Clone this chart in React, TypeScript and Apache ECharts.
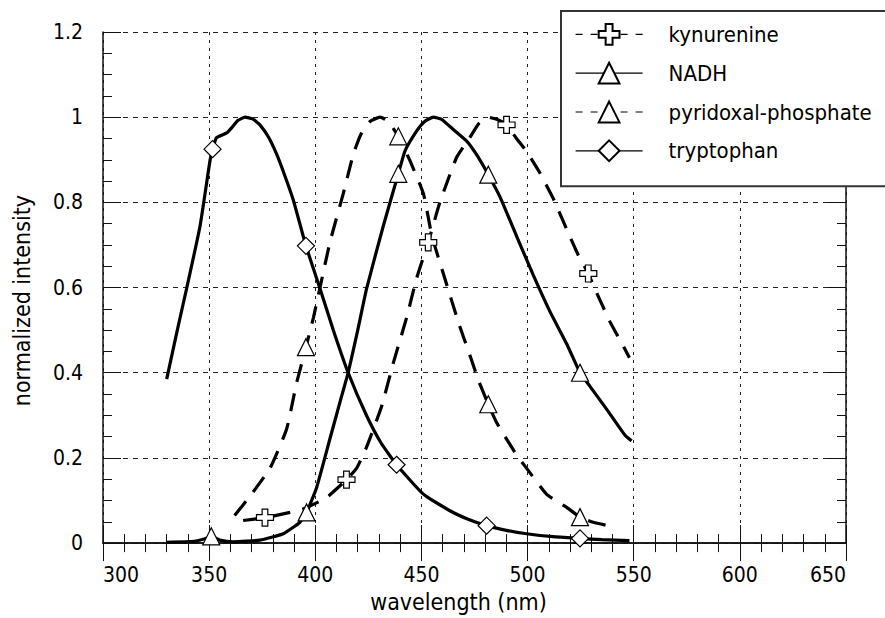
import React, { useEffect, useRef } from "react";
import * as echarts from "echarts";

const FONT = "'Liberation Sans Narrow', 'Arial Narrow', 'DejaVu Sans Condensed', sans-serif";

const xTicks = [300, 350, 400, 450, 500, 550, 600, 650];
const yTicks = [0, 0.2, 0.4, 0.6, 0.8, 1, 1.2];

const seriesNames = ["kynurenine", "NADH", "pyridoxal-phosphate", "tryptophan"];

const kynX = [366, 376.3, 388.1, 394.3, 405.3, 414.7, 419.5, 424.2, 431.3, 436.7, 443.0, 447.7, 453.2, 458.7, 466.6, 472.8, 477, 481.5, 485.5, 490.1, 494.8, 499.5, 505.7, 512.0, 518.4, 524, 528.6, 531.0, 538.8, 545.9, 548];
const kynY = [0.053, 0.06, 0.072, 0.08, 0.107, 0.149, 0.176, 0.226, 0.322, 0.422, 0.529, 0.621, 0.706, 0.8, 0.906, 0.952, 0.985, 1.0, 0.995, 0.982, 0.95, 0.92, 0.87, 0.81, 0.737, 0.675, 0.633, 0.605, 0.52, 0.455, 0.435];
const kynMarkers = [376.3, 414.7, 453.2, 490.1, 528.6];

const nadhX = [330, 343, 348, 351, 355, 361.4, 373.9, 384.9, 392.8, 395.9, 400.6, 406.9, 412.4, 415.5, 420, 424.2, 432.0, 439.1, 442.2, 447.7, 451.5, 455.6, 459.5, 463.4, 471.3, 476, 481.5, 487.0, 494.8, 502.7, 510.5, 518.4, 524.7, 529.4, 537.3, 545.9, 549];
const nadhY = [0.002, 0.004, 0.01, 0.016, 0.007, 0.003, 0.007, 0.022, 0.049, 0.072, 0.13, 0.245, 0.345, 0.4, 0.5, 0.598, 0.744, 0.867, 0.92, 0.967, 0.99, 1.0, 0.995, 0.978, 0.944, 0.912, 0.865, 0.813, 0.721, 0.629, 0.544, 0.468, 0.4, 0.368, 0.314, 0.253, 0.24];
const nadhMarkers = [351, 395.9, 439.1, 481.5, 524.7];

const pypX = [362, 369.2, 378.7, 386.5, 391.2, 395.6, 399.1, 406.9, 413.2, 417.9, 421.5, 425.8, 430.5, 434.4, 439.1, 444.6, 450.9, 455, 461.1, 467.7, 473.6, 476.8, 481.5, 485.4, 494.8, 499.5, 508.9, 518.4, 524.7, 531.0, 540.4];
const pypY = [0.065, 0.11, 0.176, 0.268, 0.376, 0.46, 0.529, 0.706, 0.821, 0.913, 0.96, 0.99, 1.0, 0.99, 0.955, 0.898, 0.821, 0.72, 0.62, 0.514, 0.43, 0.383, 0.326, 0.283, 0.207, 0.176, 0.115, 0.084, 0.061, 0.049, 0.038];
const pypMarkers = [395.6, 439.1, 481.5, 524.7];

const trpX = [330, 335, 339.4, 345.7, 350.4, 351.6, 353.5, 358.3, 360.6, 363.5, 366.9, 370.5, 373.9, 378, 381.8, 385.7, 389.6, 395.6, 402.2, 408.5, 415.5, 424.2, 431, 438.3, 450.9, 463.4, 472, 480.7, 490, 499.5, 512, 524.7, 535, 548];
const trpY = [0.385, 0.5, 0.598, 0.744, 0.898, 0.925, 0.952, 0.963, 0.975, 0.992, 1.0, 0.996, 0.982, 0.953, 0.913, 0.862, 0.806, 0.698, 0.598, 0.5, 0.4, 0.299, 0.235, 0.184, 0.115, 0.076, 0.056, 0.041, 0.03, 0.022, 0.015, 0.011, 0.008, 0.006];
const trpMarkers = [351.6, 395.6, 438.3, 480.7, 524.7];

const PLUS = "path://M1,0H2V1H3V2H2V3H1V2H0V1H1Z";

function build(xs: number[], ys: number[], markers: number[]) {
  return xs.map((x, i) =>
    markers.includes(x) ? { value: [x, ys[i]] } : { value: [x, ys[i]], symbol: "none" }
  );
}

function makeSeries(name: string, xs: number[], ys: number[], markers: number[], symbol: string, dashed: boolean) {
  return {
    name,
    type: "line",
    xAxisIndex: 0,
    yAxisIndex: 0,
    data: build(xs, ys, markers),
    smooth: 0.15,
    symbol,
    symbolSize: 17,
    showSymbol: true,
    lineStyle: { color: "#000", width: 3.2, type: dashed ? [18, 12] : "solid" },
    itemStyle: { color: "#fff", borderColor: "#000", borderWidth: 1.2 },
    emphasis: { disabled: true },
    z: 3,
  };
}

export default function App() {
  const ref = useRef<HTMLDivElement>(null);
  useEffect(() => {
    document.body.style.margin = "0";
    const chart = echarts.init(ref.current!, null, { renderer: "svg" });
    const axisCommon = {
      type: "value",
      axisLine: { show: true, lineStyle: { color: "#111", width: 1.5 } },
      axisTick: { show: true, inside: true, length: 18, lineStyle: { color: "#111", width: 1 } },
      minorTick: { show: true, length: 9, lineStyle: { color: "#111", width: 1 } },
    };
    chart.setOption({
      animation: false,
      backgroundColor: "#fff",
      grid: { left: 103, right: 39, top: 32, bottom: 65 },
      legend: {
        orient: "vertical",
        left: 561,
        top: 11,
        padding: [12, 60, 24, 14],
        itemGap: 16,
        itemWidth: 67,
        itemHeight: 26,
        backgroundColor: "#fff",
        borderColor: "#333",
        borderWidth: 2,
        borderRadius: 0,
        selectedMode: false,
        data: [
          { name: seriesNames[0], lineStyle: { type: [7, 8], width: 1.2 } },
          { name: seriesNames[1], lineStyle: { type: "solid", width: 1.2 } },
          { name: seriesNames[2], lineStyle: { type: [7, 8], width: 1.2 } },
          { name: seriesNames[3], lineStyle: { type: "solid", width: 1.2 } },
        ],
        textStyle: { fontFamily: FONT, fontSize: 22, color: "#000", padding: [0, 0, 0, 21] },
        z: 10,
      },
      xAxis: [
        {
          ...axisCommon,
          position: "bottom",
          min: 300,
          max: 650,
          interval: 50,
          minorTick: { ...axisCommon.minorTick, splitNumber: 5 },
          axisLabel: {
            show: true,
            margin: 21,
            fontFamily: FONT,
            fontSize: 21,
            color: "#000",
            alignMinLabel: "left",
            alignMaxLabel: "right",
            formatter: (v: number) => (xTicks.includes(v) ? String(v) : ""),
          },
          splitLine: { show: true, lineStyle: { color: "#222", width: 1, type: [3, 5] } },
          name: "wavelength (nm)",
          nameLocation: "middle",
          nameGap: 35,
          nameTextStyle: { fontFamily: FONT, fontSize: 23, color: "#000", padding: [0, 32, 0, 0] },
        },
        {
          ...axisCommon,
          position: "top",
          min: 300,
          max: 650,
          interval: 50,
          minorTick: { ...axisCommon.minorTick, splitNumber: 5 },
          axisLabel: { show: false },
          splitLine: { show: false },
        },
      ],
      yAxis: [
        {
          ...axisCommon,
          position: "left",
          min: 0,
          max: 1.2,
          interval: 0.2,
          minorTick: { ...axisCommon.minorTick, splitNumber: 4 },
          axisLabel: {
            show: true,
            margin: 20,
            fontFamily: FONT,
            fontSize: 21,
            color: "#000",
            formatter: (v: number) => {
              const t = yTicks.find((k) => Math.abs(k - v) < 1e-6);
              return t === undefined ? "" : String(t);
            },
          },
          splitLine: { show: true, lineStyle: { color: "#222", width: 1, type: [5, 5] } },
          name: "normalized intensity",
          nameLocation: "middle",
          nameGap: 70,
          nameTextStyle: { fontFamily: FONT, fontSize: 23, color: "#000", padding: [0, 26, 0, 0] },
        },
        {
          ...axisCommon,
          position: "right",
          min: 0,
          max: 1.2,
          interval: 0.2,
          minorTick: { ...axisCommon.minorTick, splitNumber: 4 },
          axisLabel: { show: false },
          splitLine: { show: false },
        },
      ],
      series: [
        makeSeries(seriesNames[0], kynX, kynY, kynMarkers, PLUS, true),
        makeSeries(seriesNames[1], nadhX, nadhY, nadhMarkers, "triangle", false),
        makeSeries(seriesNames[2], pypX, pypY, pypMarkers, "triangle", true),
        makeSeries(seriesNames[3], trpX, trpY, trpMarkers, "diamond", false),
      ],
    });
    return () => chart.dispose();
  }, []);
  return <div ref={ref} style={{ position: "fixed", left: 0, top: 0, width: 885, height: 618 }} />;
}
